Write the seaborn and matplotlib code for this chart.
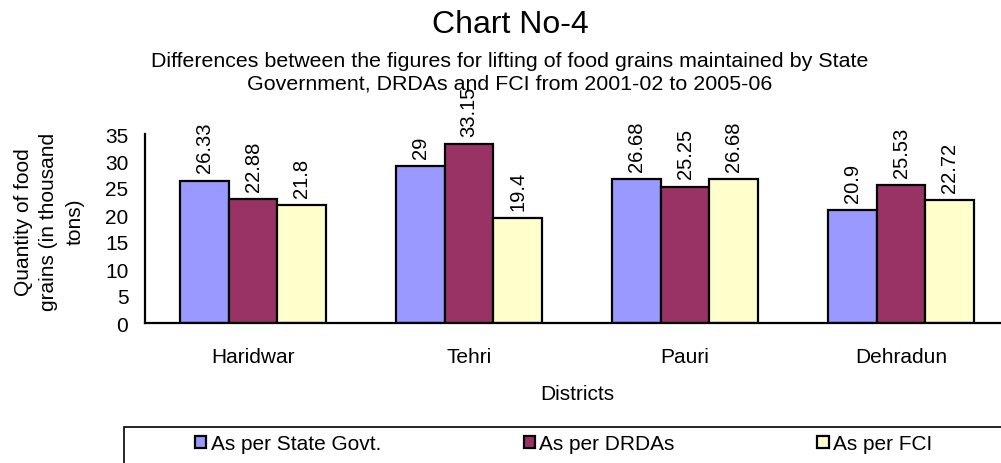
import pandas as pd
import numpy as np
import matplotlib.pyplot as plt
import seaborn as sns
from matplotlib.patches import Rectangle

sns.set_theme(style="white")
plt.rcParams['font.family'] = ['Liberation Sans', 'DejaVu Sans']
plt.rcParams['text.color'] = 'black'
plt.rcParams['axes.labelcolor'] = 'black'
plt.rcParams['xtick.color'] = 'black'
plt.rcParams['ytick.color'] = 'black'

# Data
districts = ['Haridwar', 'Tehri', 'Pauri', 'Dehradun']
sources = ['As per State Govt.', 'As per DRDAs', 'As per FCI']
state_govt = [26.33, 29, 26.68, 20.9]
drdas = [22.88, 33.15, 25.25, 25.53]
fci = [21.8, 19.4, 26.68, 22.72]
colors = ['#9999FF', '#993366', '#FFFFCC']

df = pd.DataFrame({
    'District': districts * 3,
    'Source': [sources[0]] * 4 + [sources[1]] * 4 + [sources[2]] * 4,
    'Value': state_govt + drdas + fci,
})

fig = plt.figure(figsize=(10.01, 4.64), dpi=100)
ax = fig.add_axes([145 / 1001, 1 - 324 / 464, 864 / 1001, 189 / 464])

sns.barplot(x='District', y='Value', hue='Source', data=df, order=districts,
            hue_order=sources, palette=colors, edgecolor='black', linewidth=1.6,
            width=0.68, saturation=1, ax=ax)

for cont in ax.containers:
    ax.bar_label(cont, fmt='%g', rotation=90, padding=6, fontsize=14.5)

ax.set_xlim(-0.5, 3.5)
ax.set_ylim(0, 35)
ax.set_yticks(range(0, 36, 5))
ax.tick_params(axis='x', length=0, pad=17, labelsize=15)
ax.tick_params(axis='y', length=0, pad=12, labelsize=15)
ax.set_xlabel('Districts', fontsize=15, labelpad=13)
ax.set_ylabel('')
for s in ['top', 'right']:
    ax.spines[s].set_visible(False)
for s in ['left', 'bottom']:
    ax.spines[s].set_color('black')
    ax.spines[s].set_linewidth(1.6)

fig.text(49 / 1001, 1 - 222 / 464, 'Quantity of food\ngrains (in thousand\ntons)',
         rotation=90, ha='center', va='center', multialignment='center',
         fontsize=15, linespacing=1.45)

fig.text(510 / 1001, 1 - 25 / 464, 'Chart No-4', ha='center', va='center', fontsize=23)
fig.text(510 / 1001, 1 - 72.5 / 464,
         'Differences between the figures for lifting of food grains maintained by State\n'
         'Government, DRDAs and FCI from 2001-02 to 2005-06',
         ha='center', va='center', fontsize=15.4, linespacing=1.25)

# Legend
handles, labels = ax.get_legend_handles_labels()
ax.get_legend().remove()
fig.legend(handles, labels, loc='center left', bbox_to_anchor=(195 / 1001, 1 - 445 / 464),
           ncol=3, frameon=False, fontsize=15, handlelength=0.55, handleheight=0.55,
           handletextpad=0.2, columnspacing=6.85, borderpad=0, borderaxespad=0)
fig.patches.append(Rectangle((124 / 1001, -0.1), 1.0, 0.1 + 1 - 428 / 464,
                             transform=fig.transFigure, fill=False,
                             edgecolor='black', linewidth=1.2))

plt.savefig('out.png', dpi=100)
